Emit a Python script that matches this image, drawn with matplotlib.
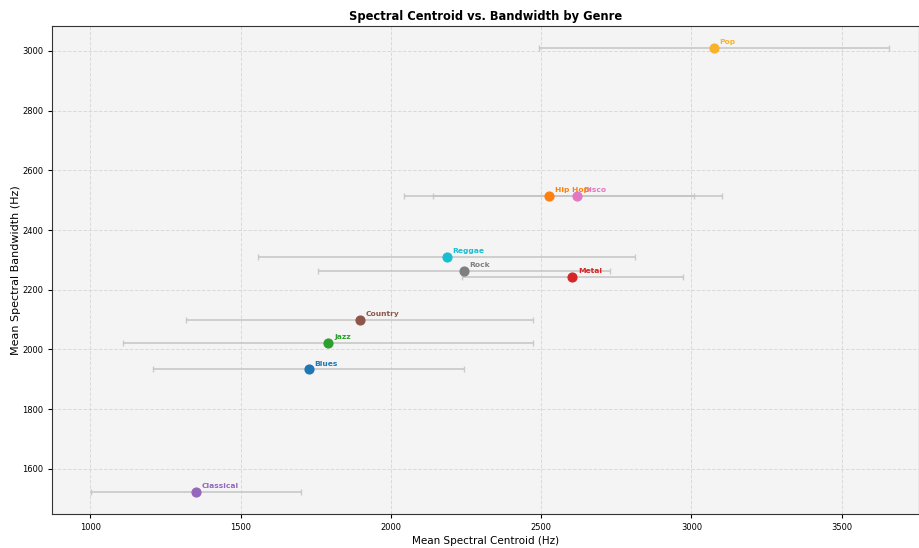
import matplotlib
matplotlib.use("Agg")
import matplotlib.pyplot as plt

genres = ["Blues", "Classical", "Country", "Disco", "Hip Hop", "Jazz", "Metal", "Pop", "Reggae", "Rock"]
centroid_mean = [1727, 1352, 1896, 2620, 2526, 1792, 2604, 3075, 2186, 2243]
centroid_std = [518, 350, 577, 480, 482, 682, 368, 583, 627, 485]
bandwidth_mean = [1933, 1523, 2100, 2515, 2515, 2023, 2244, 3010, 2311, 2264]
colors = ["#1f77b4", "#9467bd", "#8c564b", "#e377c2", "#ff7f0e", "#2ca02c", "#d62728", "#f7b32d", "#17becf", "#7f7f7f"]

fig, ax = plt.subplots(figsize=(9.19, 5.48), dpi=100)
ax.set_facecolor("#f4f4f4")

for g, x, xe, y, c in zip(genres, centroid_mean, centroid_std, bandwidth_mean, colors):
    ax.errorbar(x, y, xerr=xe, fmt="none", ecolor="#c4c4c4", elinewidth=1.3,
                capsize=2.5, alpha=0.85, zorder=2)
    ax.scatter(x, y, s=40, color=c, zorder=3)
    ax.annotate(g, (x, y), xytext=(4, 2.5), textcoords="offset points",
                fontsize=5.4, fontweight="bold", color=c, zorder=4)

ax.set_xlim(874, 3757)
ax.set_ylim(1449, 3084)
ax.set_xticks([1000, 1500, 2000, 2500, 3000, 3500])
ax.set_yticks([1600, 1800, 2000, 2200, 2400, 2600, 2800, 3000])
ax.tick_params(labelsize=6, length=3)
ax.grid(True, linestyle="--", color="#dadada", linewidth=0.7)
ax.set_axisbelow(True)
ax.set_xlabel("Mean Spectral Centroid (Hz)", fontsize=7.5, labelpad=3)
ax.set_ylabel("Mean Spectral Bandwidth (Hz)", fontsize=8, labelpad=1)
ax.set_title("Spectral Centroid vs. Bandwidth by Genre", fontsize=8.3, fontweight="bold", pad=4)
for s in ax.spines.values():
    s.set_color("#333333")

fig.subplots_adjust(left=0.057, right=1.0, top=0.953, bottom=0.062)
fig.savefig("out.png", dpi=100)
